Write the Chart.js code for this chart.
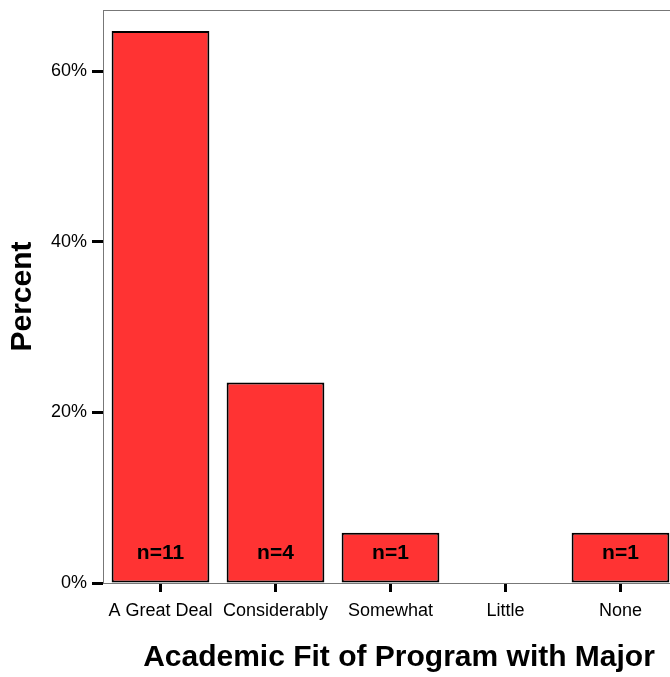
<!DOCTYPE html>
<html>
<head>
<meta charset="utf-8">
<script src="https://cdn.jsdelivr.net/npm/chart.js@4/dist/chart.umd.min.js"></script>
<style>
  html, body { margin: 0; padding: 0; background: #fff; overflow: hidden; }
  #wrap { width: 678px; height: 677px; }
</style>
</head>
<body>
<div id="wrap"><canvas id="barChart" width="678" height="677"></canvas></div>
<script>
// data
const categories = ['A Great Deal', 'Considerably', 'Somewhat', 'Little', 'None'];
const percents = [64.7, 23.5, 5.9, 0, 5.9];
const counts = [11, 4, 1, 0, 1];
const yTicks = [0, 20, 40, 60];

const FONT = '"Liberation Sans", Arial, sans-serif';
const X_TITLE = 'Academic Fit of Program with Major';

// frame around the plot area, "n=" labels inside bars, x axis title
const decorPlugin = {
    id: 'decor',
    beforeDatasetsDraw(chart) {
        const a = chart.chartArea;
        const ctx = chart.ctx;
        ctx.save();
        ctx.strokeStyle = '#777';
        ctx.lineWidth = 1;
        ctx.strokeRect(a.left + 0.5, a.top + 0.5, a.right - a.left, a.bottom - a.top);
        ctx.restore();
    },
    afterDatasetsDraw(chart) {
        const ctx = chart.ctx;
        const meta = chart.getDatasetMeta(0);
        const y0 = chart.scales.y.getPixelForValue(0);
        ctx.save();
        ctx.font = 'bold 21px ' + FONT;
        ctx.fillStyle = '#000';
        ctx.textAlign = 'center';
        ctx.textBaseline = 'middle';
        meta.data.forEach((bar, i) => {
            if (counts[i] > 0) ctx.fillText('n=' + counts[i], bar.x, y0 - 30);
        });
        // x title, centred a little right of the axis middle like the original
        ctx.font = 'bold 30px ' + FONT;
        ctx.fillText(X_TITLE, 399, 658);
        ctx.restore();
    }
};

const ctx = document.getElementById('barChart').getContext('2d');
new Chart(ctx, {
    type: 'bar',
    data: {
        labels: categories,
        datasets: [{
            data: percents,
            backgroundColor: '#ff3333',
            borderColor: '#000',
            borderWidth: 2,
            borderSkipped: false,
            barPercentage: 0.85,
            categoryPercentage: 1.0
        }]
    },
    options: {
        responsive: false,
        animation: false,
        layout: { padding: { top: 10, right: 0, bottom: 0, left: 0 } },
        plugins: { legend: { display: false }, tooltip: { enabled: false } },
        scales: {
            x: {
                afterFit(scale) { scale.height = 94; },
                grid: { drawOnChartArea: false, tickLength: 9, tickWidth: 3, tickColor: '#000', offset: false },
                border: { color: '#888', width: 1 },
                ticks: { color: '#000', font: { family: FONT, size: 18 }, padding: 8, maxRotation: 0 }
            },
            y: {
                min: 0,
                max: 67.15,
                afterFit(scale) {
                    scale.width = 103;
                    scale.paddingTop = 0;
                    scale.paddingBottom = 0;
                },
                afterBuildTicks(scale) { scale.ticks = yTicks.map(v => ({ value: v })); },
                grid: { drawOnChartArea: false, tickLength: 11, tickWidth: 3, tickColor: '#000' },
                border: { color: '#888', width: 1 },
                ticks: {
                    color: '#000',
                    font: { family: FONT, size: 18 },
                    padding: 5,
                    callback: v => v + '%'
                },
                title: {
                    display: true,
                    text: 'Percent',
                    color: '#000',
                    font: { family: FONT, size: 30, weight: 'bold' },
                    padding: { top: 5, bottom: 0 }
                }
            }
        }
    },
    plugins: [decorPlugin]
});
</script>
</body>
</html>
